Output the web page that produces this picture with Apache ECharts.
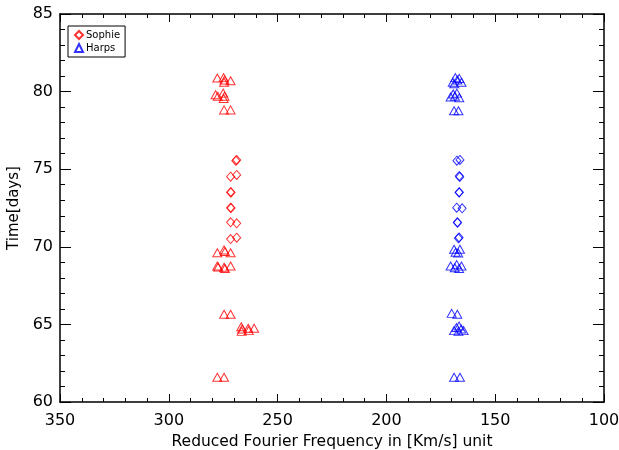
<!DOCTYPE html>
<html>
<head>
<meta charset="utf-8">
<script src="https://cdn.jsdelivr.net/npm/echarts@6/dist/echarts.min.js"></script>
<style>
    html, body { margin: 0; padding: 0; background: #fff; }
    #container { width: 619px; height: 450px; }
</style>
</head>
<body>
<div id="container"></div>
<script>
// [frequency, time] pairs
var sophieRed = [
    [268.8, 75.6], [269.2, 75.55], [271.6, 74.52], [268.8, 74.63],
    [271.6, 73.52], [271.4, 73.5], [271.6, 72.52], [271.4, 72.5],
    [271.6, 71.58], [268.8, 71.51], [271.6, 70.5], [268.8, 70.59]
];
var sophieBlue = [
    [167.6, 75.55], [166.2, 75.6], [166.5, 74.56], [166.3, 74.5],
    [166.5, 73.51], [166.6, 73.5], [167.7, 72.52], [165.2, 72.48],
    [167.4, 71.58], [167.3, 71.55], [166.9, 70.55], [166.6, 70.6]
];
var harpsRed = [
    [277.7, 80.88], [274.8, 80.9], [274.4, 80.75], [274.6, 80.6], [271.6, 80.7],
    [278.5, 79.8], [277.5, 79.7], [275.0, 79.9], [274.4, 79.7], [274.8, 79.55],
    [274.6, 78.82], [271.6, 78.82],
    [277.7, 69.62], [274.6, 69.8], [274.2, 69.7], [271.6, 69.62],
    [277.7, 68.76], [277.3, 68.7], [274.6, 68.68], [274.2, 68.6], [271.6, 68.76],
    [274.6, 65.65], [271.6, 65.65],
    [266.7, 64.85], [266.3, 64.7], [266.5, 64.55], [263.5, 64.75], [263.3, 64.6], [260.8, 64.75],
    [277.7, 61.59], [274.6, 61.59]
];
var harpsBlue = [
    [169.5, 80.6], [168.3, 80.9], [167.4, 80.75], [166.5, 80.85], [165.5, 80.6], [168.8, 80.5],
    [170.5, 79.65], [169.3, 79.85], [168.5, 79.7], [167.6, 79.9], [166.5, 79.6],
    [168.9, 78.77], [166.9, 78.77],
    [168.9, 69.84], [166.2, 69.84], [168.2, 69.65], [167.0, 69.6],
    [170.5, 68.76], [167.7, 68.85], [165.5, 68.76], [168.6, 68.65], [166.6, 68.6],
    [170.0, 65.71], [167.4, 65.65],
    [168.9, 64.6], [167.8, 64.8], [166.6, 64.9], [165.6, 64.7], [164.5, 64.6], [166.9, 64.55],
    [168.9, 61.59], [166.2, 61.59]
];
var xRange = [100, 350];
var yRange = [60, 85];

var myChart = echarts.init(document.getElementById('container'));
var font = 'DejaVu Sans';

var tickStyle = { color: '#000', width: 1 };
var makeX = function (pos, labels) {
    return {
        type: 'value', position: pos, inverse: true,
        min: xRange[0], max: xRange[1], interval: 50,
        axisLine: { show: true, onZero: false, lineStyle: { color: '#000', width: 1.5 } },
        axisTick: { show: true, inside: true, length: 8, lineStyle: tickStyle },
        minorTick: { show: true, splitNumber: 5, length: 4, lineStyle: tickStyle },
        splitLine: { show: false },
        axisLabel: { show: labels, color: '#000', fontFamily: font, fontSize: 16, margin: 11 },
        name: labels ? 'Reduced Fourier Frequency in [Km/s] unit' : '',
        nameLocation: 'middle', nameGap: 25,
        nameTextStyle: { color: '#000', fontFamily: font, fontSize: 15.5 }
    };
};
var makeY = function (pos, labels) {
    return {
        type: 'value', position: pos,
        min: yRange[0], max: yRange[1], interval: 5,
        axisLine: { show: true, onZero: false, lineStyle: { color: '#000', width: 1.5 } },
        axisTick: { show: true, inside: true, length: 11, lineStyle: tickStyle },
        minorTick: { show: true, splitNumber: 5, length: 5, lineStyle: tickStyle },
        splitLine: { show: false },
        axisLabel: { show: labels, color: '#000', fontFamily: font, fontSize: 16, margin: 7 },
        name: labels ? 'Time[days]' : '',
        nameLocation: 'middle', nameGap: 33,
        nameTextStyle: { color: '#000', fontFamily: font, fontSize: 15 }
    };
};
var scatter = function (name, data, symbol, size, color) {
    return {
        name: name, type: 'scatter', data: data,
        symbol: symbol, symbolSize: size,
        itemStyle: { color: 'rgba(0,0,0,0)', borderColor: color, borderWidth: 1 },
        emphasis: { disabled: true },
        silent: true
    };
};

var option = {
    animation: false,
    backgroundColor: '#fff',
    grid: { left: 60, right: 15, top: 14, bottom: 48, containLabel: false, outerBoundsMode: 'none' },
    legend: {
        data: ['Sophie', 'Harps'],
        orient: 'vertical', left: 68, top: 26,
        backgroundColor: '#fff', borderColor: '#000', borderWidth: 1,
        padding: [4, 5, 4, 6], itemGap: 3,
        itemWidth: 8, itemHeight: 8,
        textStyle: { color: '#000', fontFamily: font, fontSize: 10, padding: [0, 0, 0, -2] }
    },
    xAxis: [makeX('bottom', true), makeX('top', false)],
    yAxis: [makeY('left', true), makeY('right', false)],
    series: [
        scatter('Sophie', sophieRed, 'diamond', [8, 9], '#ff0000'),
        scatter('Sophie ', sophieBlue, 'diamond', [8, 9], '#0000ff'),
        scatter('Harps', harpsBlue, 'triangle', [9, 8], '#0000ff'),
        scatter('Harps ', harpsRed, 'triangle', [9, 8], '#ff0000')
    ]
};
myChart.setOption(option);
</script>
</body>
</html>
